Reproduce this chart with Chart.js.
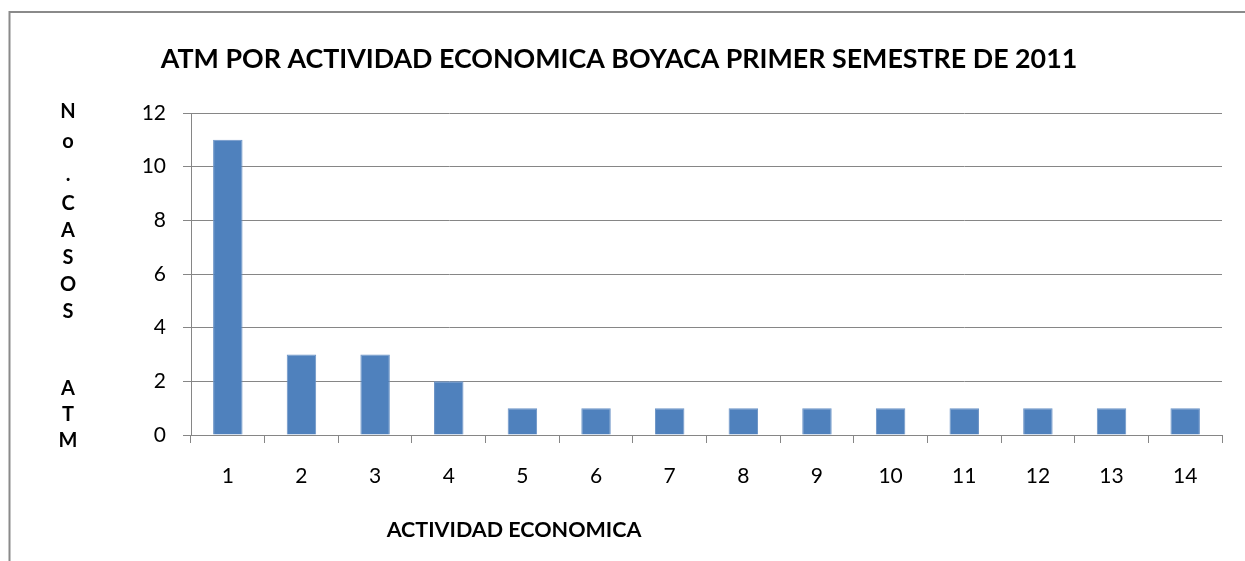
<!DOCTYPE html>
<html>
<head>
<meta charset="utf-8">
<script src="https://cdn.jsdelivr.net/npm/chart.js@4/dist/chart.umd.min.js"></script>
<style>
  body { margin: 0; background: #fff; }
  #wrap { width: 1245px; height: 561px; }
</style>
</head>
<body>
<div id="wrap"><canvas id="myChart"></canvas></div>
<script>
const labels = ['1', '2', '3', '4', '5', '6', '7', '8', '9', '10', '11', '12', '13', '14'];
const casos = [11, 3, 3, 2, 1, 1, 1, 1, 1, 1, 1, 1, 1, 1];
const yTicks = [0, 2, 4, 6, 8, 10, 12];

const chartTitle = 'ATM POR ACTIVIDAD ECONOMICA BOYACA PRIMER SEMESTRE DE 2011';
const xTitle = 'ACTIVIDAD ECONOMICA';
// vertical y title, one letter per line (blank lines kept out, gaps go in baselines)
const yTitle = ['N', 'o', '.', 'C', 'A', 'S', 'O', 'S', 'A', 'T', 'M'];

const gridColor = '#868686';

const frame = {
  id: 'frame',
  beforeDraw: (chart) => {
    const { ctx, width, height } = chart;
    ctx.save();
    ctx.fillStyle = '#fff';
    ctx.fillRect(0, 0, width, height);
    ctx.strokeStyle = '#8a8a8a';
    ctx.lineWidth = 2;
    ctx.beginPath();
    ctx.moveTo(9.5, height);
    ctx.lineTo(9.5, 12);
    ctx.lineTo(width, 12);
    ctx.stroke();
    ctx.restore();
  }
};

const titles = {
  id: 'titles',
  afterDraw: (chart) => {
    const { ctx } = chart;
    ctx.save();
    ctx.fillStyle = '#000';
    ctx.textAlign = 'center';
    ctx.textBaseline = 'alphabetic';

    ctx.font = 'bold 26.8px Lato';
    ctx.fillText(chartTitle, 619, 68);

    ctx.font = 'bold 21.5px Lato';
    ctx.fillText(xTitle, 514, 537);

    const baselines = [118, 148, 181, 210, 237, 264, 291, 318, 395, 421, 447];
    ctx.font = 'bold 20px Lato';
    yTitle.forEach((ch, i) => ctx.fillText(ch, 68, baselines[i]));
    ctx.restore();
  }
};

const config = {
  type: 'bar',
  data: {
    labels: labels,
    datasets: [{
      data: casos,
      backgroundColor: '#4F81BD',
      borderColor: '#6b93c6',
      borderWidth: 1,
      categoryPercentage: 1,
      barPercentage: 0.4,
    }]
  },
  options: {
    responsive: true,
    maintainAspectRatio: false,
    animation: false,
    layout: {
      padding: { top: 113, right: 23, left: 0, bottom: 0 }
    },
    scales: {
      y: {
        min: 0,
        max: 12,
        afterFit: (scale) => { scale.width = 191; },
        afterBuildTicks: (scale) => { scale.ticks = yTicks.map(v => ({ value: v })); },
        grid: {
          color: gridColor,
          lineWidth: 1,
          tickLength: 8,
          tickColor: gridColor,
        },
        border: { color: gridColor, width: 1 },
        ticks: {
          padding: 17,
          color: '#000',
          font: { family: 'Lato', size: 21 },
        }
      },
      x: {
        afterFit: (scale) => { scale.height = 126; },
        grid: {
          offset: true,
          drawOnChartArea: false,
          tickLength: 8,
          color: gridColor,
          tickColor: gridColor,
        },
        border: { color: gridColor, width: 1 },
        ticks: {
          padding: 21,
          color: '#000',
          font: { family: 'Lato', size: 21 },
        }
      }
    },
    plugins: {
      legend: { display: false },
      title: { display: false },
      tooltip: { enabled: false },
    }
  },
  plugins: [frame, titles]
};

const myChart = new Chart(document.getElementById('myChart').getContext('2d'), config);
</script>
</body>
</html>
